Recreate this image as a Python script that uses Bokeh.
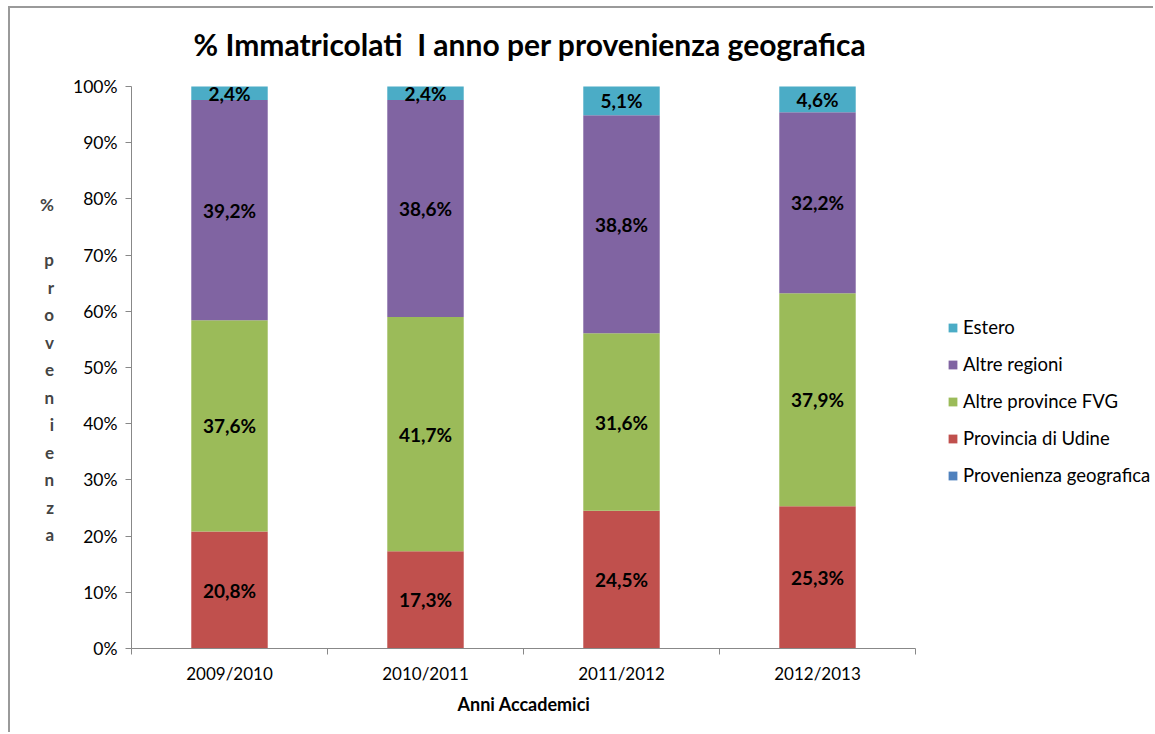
from bokeh.plotting import figure
from bokeh.models import (ColumnDataSource, FixedTicker, Label, Legend, LegendItem,
                          Range1d, Title)
from bokeh.embed import file_html
from bokeh.resources import INLINE

# ---- data ----
years = ["2009/2010", "2010/2011", "2011/2012", "2012/2013"]
series = ["Provenienza geografica", "Provincia di Udine", "Altre province FVG",
          "Altre regioni", "Estero"]
provenienza = [0.0, 0.0, 0.0, 0.0]
udine = [20.8, 17.3, 24.5, 25.3]
altre_fvg = [37.6, 41.7, 31.6, 37.9]
altre_regioni = [39.2, 38.6, 38.8, 32.2]
estero = [2.4, 2.4, 5.1, 4.6]
y_ticks = [0, 10, 20, 30, 40, 50, 60, 70, 80, 90, 100]
colors = ["#4F81BD", "#C0504D", "#9BBB59", "#8064A2", "#4BACC6"]

values = [provenienza, udine, altre_fvg, altre_regioni, estero]
keys = ["s0", "s1", "s2", "s3", "s4"]

FONT = "Lato"
OX, OY = 10, 8                      # canvas offset (margin + border) in window
W, H = 1155 - OX, 734 - OY
AX_L, AX_R, AX_T, AX_B = 131, 915, 86, 648   # axes extent in window pixels
L = AX_L - OX                        # frame left in canvas
B = AX_B - OY                        # frame bottom in canvas
frame_w = W - L
frame_h = B
ncat = len(years)
x_end = ncat * frame_w / (AX_R - AX_L)
y_end = 100.0 * frame_h / (AX_B - AX_T)

xs = [i + 0.5 for i in range(ncat)]
data = {"x": xs}
for k, v in zip(keys, values):
    data[k] = v
src = ColumnDataSource(data)

p = figure(width=W, height=H, output_backend="svg", toolbar_location=None,
           x_range=Range1d(0, x_end), y_range=Range1d(0, y_end),
           min_border_left=L, min_border_right=0, min_border_top=0,
           min_border_bottom=H - B)
p.styles = {"margin-left": "8px", "margin-top": "6px",
            "border-left": "2px solid #9a9a9a", "border-top": "2px solid #9a9a9a"}
p.outline_line_color = None
p.grid.visible = False
p.background_fill_color = "white"
p.border_fill_color = "white"

renderers = p.vbar_stack(keys, x="x", width=0.39, source=src, color=colors,
                         line_color=None)

# axes
ax = p.xaxis[0]
ax.bounds = (0, ncat)
ax.ticker = FixedTicker(ticks=xs, minor_ticks=list(range(ncat + 1)))
ax.major_label_overrides = {x: y for x, y in zip(xs, years)}
ax.major_tick_out = 0
ax.major_tick_in = 0
ax.minor_tick_out = 6
ax.minor_tick_in = 0
ax.minor_tick_line_color = "#888888"
ax.axis_line_color = "#888888"
ax.major_label_text_font = FONT
ax.major_label_text_font_size = "17px"
ax.major_label_text_color = "#000000"
ax.major_label_standoff = 8

# x-axis title, centred under the category axis
xt = Title(text="Anni Accademici", align="left", offset=457 - AX_L,
           text_font=FONT, text_font_style="bold", text_font_size="18px",
           text_color="black", standoff=8)
p.add_layout(xt, "below")

ay = p.yaxis[0]
ay.bounds = (0, 100)
ay.ticker = FixedTicker(ticks=y_ticks)
ay.major_label_overrides = {t: f"{t}%" for t in y_ticks}
ay.minor_tick_line_color = None
ay.major_tick_out = 6
ay.major_tick_in = 0
ay.major_tick_line_color = "#888888"
ay.axis_line_color = "#888888"
ay.major_label_text_font = FONT
ay.major_label_text_font_size = "17.5px"
ay.major_label_text_color = "#000000"
ay.major_label_standoff = 8
ay.axis_label = "\n\n\n%\n\np\nr\no\nv\ne\nn\ni\ne\nn\nz\na"
ay.axis_label_orientation = "horizontal"
ay.axis_label_text_font = FONT
ay.axis_label_text_font_style = "bold"
ay.axis_label_text_font_size = "17px"
ay.axis_label_text_line_height = 1.31
ay.axis_label_standoff = 16

# data labels
for ci, x in enumerate(xs):
    base = 0.0
    for si in range(len(values)):
        v = values[si][ci]
        if v > 0:
            txt = f"{v:.1f}".replace(".", ",") + "%"
            p.add_layout(Label(x=x, y=base + v / 2, text=txt, text_align="center",
                               text_baseline="middle", text_font=FONT,
                               text_font_style="bold", text_font_size="19px",
                               text_color="black"))
        base += v

# chart title (inside the extended frame area, screen units relative to frame)
p.add_layout(Label(x=529.5 - AX_L, y=AX_B - 43, x_units="screen", y_units="screen",
                   text="% Immatricolati\u00a0 I anno per provenienza geografica",
                   text_align="center", text_baseline="middle", text_font=FONT,
                   text_font_style="bold", text_font_size="30px", text_color="black"))

# legend
items = [LegendItem(label=series[i], renderers=[renderers[i]]) for i in range(4, -1, -1)]
legend = Legend(items=items, location=(947 - AX_L, AX_B - 486),
                orientation="vertical", label_text_font=FONT,
                label_text_font_size="18.5px", label_text_color="black",
                glyph_width=11, glyph_height=11, label_height=20, spacing=15,
                label_standoff=5, padding=0, margin=0,
                border_line_color=None, background_fill_alpha=0)
p.add_layout(legend, "center")

open("out.html", "w").write(file_html(p, INLINE))
